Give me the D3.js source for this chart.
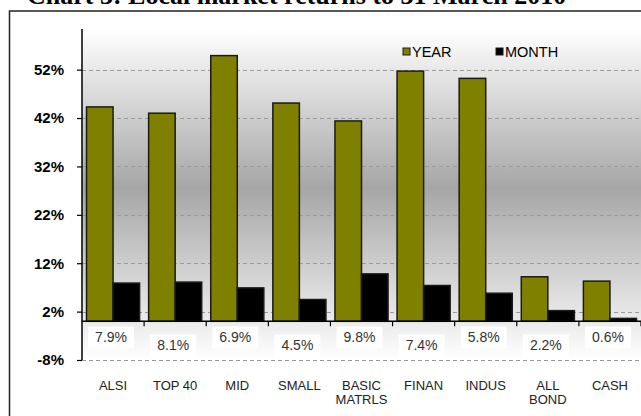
<!DOCTYPE html>
<html>
<head>
<meta charset="utf-8">
<script src="https://cdn.jsdelivr.net/npm/d3@7"></script>
<style>
  body { margin: 0; background: #ffffff; }
  svg { display: block; font-family: Arial, "Liberation Sans", sans-serif; }
</style>
</head>
<body>
<div id="chart"></div>
<script>
// Chart data
var categories = ["ALSI", "TOP 40", "MID", "SMALL", "BASIC\nMATRLS", "FINAN", "INDUS", "ALL\nBOND", "CASH"];
var yearReturns = [44.3, 43.0, 54.9, 45.1, 41.4, 51.7, 50.2, 9.2, 8.3];
var monthReturns = [7.9, 8.1, 6.9, 4.5, 9.8, 7.4, 5.8, 2.2, 0.6];
var yTicks = [-8, 2, 12, 22, 32, 42, 52];
var seriesNames = ["YEAR", "MONTH"];
var seriesColors = ["#808000", "#000000"];

const width = 641;
const height = 416;

const svg = d3.select("#chart")
              .append("svg")
              .attr("width", width)
              .attr("height", height);

// plot area
const plotLeft = 82, plotRight = 641, plotTop = 29, plotBottom = 360;

// gradient background
var defs = svg.append("defs");
var grad = defs.append("linearGradient")
               .attr("id", "bg")
               .attr("x1", 0).attr("y1", 0)
               .attr("x2", 0).attr("y2", 1);
grad.append("stop").attr("offset", "0%").attr("stop-color", "#ffffff");
grad.append("stop").attr("offset", "48%").attr("stop-color", "#a6a6a6");
grad.append("stop").attr("offset", "100%").attr("stop-color", "#ffffff");

// outer frame
svg.append("rect")
   .attr("x", 9.5).attr("y", 11)
   .attr("width", 700).attr("height", 450)
   .attr("fill", "#ffffff")
   .attr("stroke", "#222")
   .attr("stroke-width", 1.5);

// title (mostly cut off at the top)
svg.append("text")
   .attr("x", 27)
   .attr("y", 4)
   .style("font-family", "'Liberation Serif', 'Times New Roman', serif")
   .style("font-weight", "bold")
   .style("font-size", "26px")
   .text("Chart 3: Local market returns to 31 March 2010");

svg.append("rect")
   .attr("x", plotLeft).attr("y", plotTop)
   .attr("width", plotRight - plotLeft).attr("height", plotBottom - plotTop)
   .attr("fill", "url(#bg)");

// scales
const y = d3.scaleLinear()
            .domain([-8, 60.4])
            .range([plotBottom, plotTop]);

const x = d3.scaleBand()
            .domain(categories)
            .range([plotLeft, plotRight])
            .padding(0);

const xSeries = d3.scaleBand()
                  .domain(seriesNames)
                  .range([0, x.bandwidth()])
                  .paddingInner(0)
                  .paddingOuter(0.17);

// dashed gridlines
svg.append("g")
   .selectAll("line")
   .data(yTicks)
   .enter()
   .append("line")
   .attr("x1", plotLeft)
   .attr("x2", plotRight)
   .attr("y1", function(d) { return Math.round(y(d)) + 0.5; })
   .attr("y2", function(d) { return Math.round(y(d)) + 0.5; })
   .attr("stroke", "#999")
   .attr("stroke-width", 1)
   .attr("stroke-dasharray", "4,3");

// bars
var rows = categories.map(function(c, i) {
   return [{cat: c, s: "YEAR", v: yearReturns[i]}, {cat: c, s: "MONTH", v: monthReturns[i]}];
});

svg.append("g")
   .selectAll("g")
   .data(rows)
   .enter()
   .append("g")
   .attr("transform", function(d) { return "translate(" + x(d[0].cat) + ",0)"; })
   .selectAll("rect")
   .data(function(d) { return d; })
   .enter()
   .append("rect")
   .attr("x", function(d) { return xSeries(d.s); })
   .attr("y", function(d) { return y(d.v); })
   .attr("width", xSeries.bandwidth())
   .attr("height", function(d) { return y(0) - y(d.v); })
   .attr("fill", function(d) { return d.s === "YEAR" ? seriesColors[0] : seriesColors[1]; })
   .attr("stroke", "#1a1a1a")
   .attr("stroke-width", 1.5);

// y axis
const yAxis = svg.append("g")
                 .attr("transform", "translate(" + plotLeft + ",0)")
                 .call(d3.axisLeft(y).tickValues(yTicks).tickSize(5).tickPadding(13)
                         .tickFormat(function(d) { return d + "%"; }));
yAxis.select(".domain").remove();
yAxis.selectAll("line").attr("stroke", "#000").attr("stroke-width", 1.2);
yAxis.selectAll("text")
     .style("font-size", "15px")
     .style("font-weight", "bold")
     .attr("fill", "#000");

svg.append("line")
   .attr("x1", plotLeft).attr("x2", plotLeft)
   .attr("y1", plotTop).attr("y2", plotBottom)
   .attr("stroke", "#000").attr("stroke-width", 1.5);

// x axis line at zero with ticks
svg.append("line")
   .attr("x1", plotLeft).attr("x2", plotRight)
   .attr("y1", y(0)).attr("y2", y(0))
   .attr("stroke", "#000").attr("stroke-width", 1.5);

svg.append("g")
   .selectAll("line")
   .data(categories.slice(1).concat(["end"]))
   .enter()
   .append("line")
   .attr("x1", function(d, i) { return plotLeft + (i + 1) * x.bandwidth(); })
   .attr("x2", function(d, i) { return plotLeft + (i + 1) * x.bandwidth(); })
   .attr("y1", y(0))
   .attr("y2", y(0) + 5)
   .attr("stroke", "#000")
   .attr("stroke-width", 1.2);

// month value labels in white boxes below the axis
var labels = svg.append("g")
                .selectAll("g")
                .data(monthReturns)
                .enter()
                .append("g")
                .attr("transform", function(d, i) {
                   var cy = i % 2 === 0 ? 337.5 : 345.5;
                   return "translate(" + (x(categories[i]) + x.bandwidth() / 2 - 2) + "," + cy + ")";
                });

labels.append("rect")
      .attr("x", -23).attr("y", -11)
      .attr("width", 46).attr("height", 22)
      .attr("fill", "#ffffff");

labels.append("text")
      .attr("text-anchor", "middle")
      .attr("dy", "0.35em")
      .style("font-size", "14px")
      .attr("fill", "#333")
      .text(function(d) { return d.toFixed(1) + "%"; });

// category labels
svg.append("g")
   .selectAll("text")
   .data(categories)
   .enter()
   .append("text")
   .attr("x", function(d) { return x(d) + x.bandwidth() / 2; })
   .attr("y", 389.5)
   .attr("text-anchor", "middle")
   .style("font-size", "13px")
   .attr("fill", "#222")
   .selectAll("tspan")
   .data(function(d) { return d.split("\n"); })
   .enter()
   .append("tspan")
   .attr("x", function() { var p = this.parentNode; return p.getAttribute("x"); })
   .attr("dy", function(d, i) { return i === 0 ? 0 : 14; })
   .text(function(d) { return d; });

// legend
var legend = svg.append("g")
                .selectAll("g")
                .data(seriesNames)
                .enter()
                .append("g")
                .attr("transform", function(d, i) { return "translate(" + (403 + i * 93) + ",48)"; });

legend.append("rect")
      .attr("width", 7).attr("height", 7)
      .attr("fill", function(d, i) { return seriesColors[i]; })
      .attr("stroke", "#1a1a1a")
      .attr("stroke-width", 1);

legend.append("text")
      .attr("x", 9)
      .attr("y", 9)
      .style("font-size", "14.5px")
      .attr("fill", "#000")
      .text(function(d) { return d; });
</script>
</body>
</html>
